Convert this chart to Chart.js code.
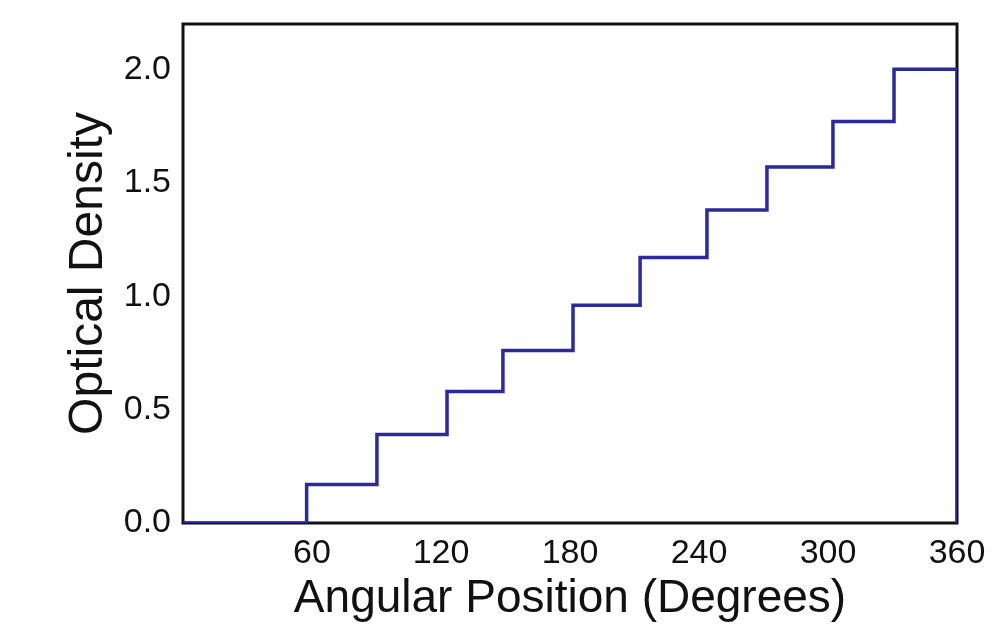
<!DOCTYPE html>
<html>
<head>
<meta charset="utf-8">
<title>Optical Density vs Angular Position</title>
<script src="https://cdn.jsdelivr.net/npm/chart.js@4"></script>
<style>
  html, body { margin: 0; padding: 0; background: #fff; }
  #wrap { width: 994px; height: 627px; }
</style>
</head>
<body>
<div id="wrap"><canvas id="odChart" width="994" height="627"></canvas></div>
<script>
// step edges (degrees) and the density level that starts at each edge
const angles = [0, 57.5, 90.2, 122.8, 148.8, 181.4, 212.6, 243.7, 271.6, 302.3, 330.7, 360];
const density = [0, 0.17, 0.39, 0.58, 0.76, 0.96, 1.17, 1.38, 1.57, 1.77, 2.0, 0];

const xTicks = [60, 120, 180, 240, 300, 360];
const yTicks = [0, 0.5, 1.0, 1.5, 2.0];

const points = angles.map((a, i) => ({ x: a, y: density[i] }));

// black box round the plot area
const framePlugin = {
    id: 'frame',
    beforeDatasetsDraw(chart) {
        const { ctx, chartArea: a } = chart;
        ctx.save();
        ctx.strokeStyle = '#111';
        ctx.lineWidth = 3;
        ctx.strokeRect(a.left, a.top, a.right - a.left, a.bottom - a.top);
        ctx.restore();
    }
};

const tickFont = { family: '"Liberation Sans", Arial, sans-serif', size: 34 };

new Chart(document.getElementById('odChart').getContext('2d'), {
    type: 'line',
    data: {
        datasets: [{
            data: points,
            stepped: true,
            borderColor: '#2a2a9c',
            borderWidth: 3.5,
            pointRadius: 0,
            fill: false
        }]
    },
    options: {
        responsive: false,
        animation: false,
        layout: { padding: { top: 24, right: 37, left: 0, bottom: 0 } },
        plugins: { legend: { display: false }, tooltip: { enabled: false } },
        scales: {
            x: {
                type: 'linear',
                min: 0,
                max: 360,
                afterFit(scale) {
                    scale.height = 104;
                    scale.paddingLeft = 0;
                    scale.paddingRight = 0;
                },
                afterBuildTicks(scale) { scale.ticks = xTicks.map(v => ({ value: v })); },
                grid: { display: false, drawTicks: false },
                border: { display: false },
                ticks: { color: '#111', font: tickFont, padding: 10, maxRotation: 0 },
                title: {
                    display: true, text: 'Angular Position (Degrees)', color: '#111',
                    font: { family: '"Liberation Sans", Arial, sans-serif', size: 46 },
                    padding: { top: 0, bottom: 0 }
                }
            },
            y: {
                min: 0,
                max: 2.2,
                afterFit(scale) {
                    scale.width = 183;
                    scale.paddingTop = 0;
                    scale.paddingBottom = 0;
                },
                afterBuildTicks(scale) { scale.ticks = yTicks.map(v => ({ value: v })); },
                grid: { display: false, drawTicks: false },
                border: { display: false },
                ticks: { color: '#111', font: tickFont, padding: 12, callback: v => v.toFixed(1) },
                title: {
                    display: true, text: 'Optical Density', color: '#111',
                    font: { family: '"Liberation Sans", Arial, sans-serif', size: 48 },
                    padding: { top: 60, bottom: 0 }
                }
            }
        }
    },
    plugins: [framePlugin]
});
</script>
</body>
</html>
